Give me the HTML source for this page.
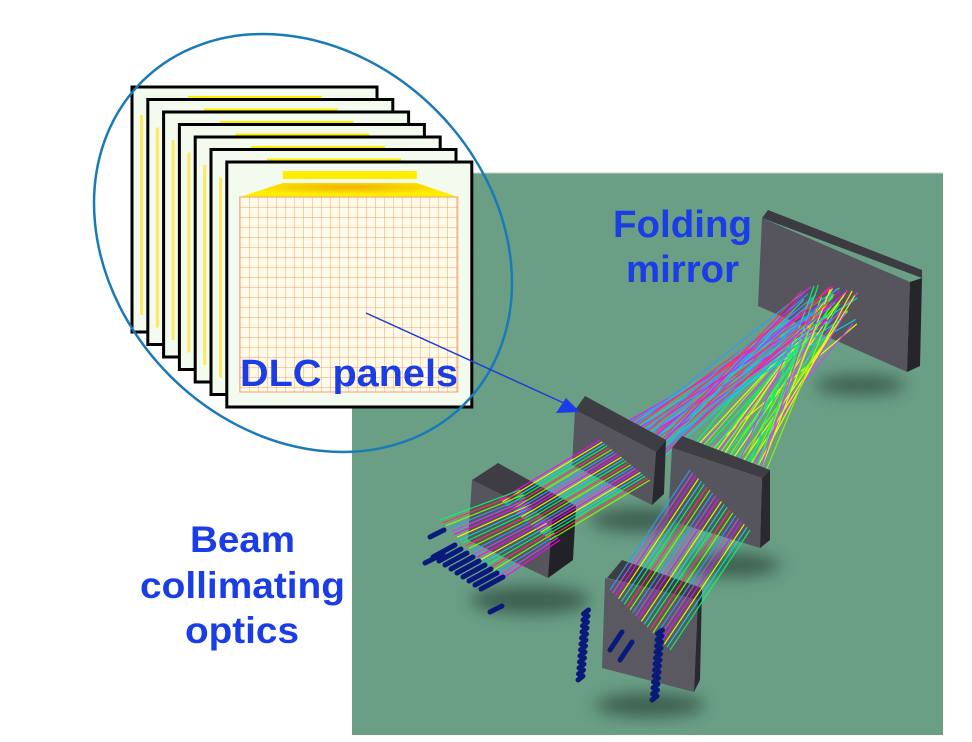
<!DOCTYPE html>
<html><head><meta charset="utf-8"><style>
html,body{margin:0;padding:0;background:#fff;}
svg{display:block;}
text{font-family:"Liberation Sans",Arial,sans-serif;font-weight:bold;fill:#1a3de6;}
</style></head><body>
<svg id="s" width="972" height="742" viewBox="0 0 972 742" xmlns="http://www.w3.org/2000/svg">
<defs>
<pattern id="grid" x="240" y="197" width="9" height="10" patternUnits="userSpaceOnUse">
<rect width="9" height="10" fill="#fffbe8"/>
<path d="M0 0V10M0 0H9" stroke="#f0a070" stroke-width="1"/>
</pattern>
<filter id="bl" x="-50%" y="-50%" width="200%" height="200%"><feGaussianBlur stdDeviation="8"/></filter>
<radialGradient id="glow" cx="0.5" cy="0.3" r="0.5"><stop offset="0" stop-color="#f0b000"/><stop offset="1" stop-color="#ffee00"/></radialGradient>
</defs>
<rect x="352" y="173" width="591" height="562" fill="#6a9f86"/>
<line x1="352" y1="173" x2="943" y2="173" stroke="#ccc" stroke-width="1"/>
<g filter="url(#bl)" fill="#2e4a3c" opacity="0.75">
<ellipse cx="530" cy="600" rx="60" ry="14"/>
<ellipse cx="640" cy="520" rx="50" ry="12"/>
<ellipse cx="730" cy="565" rx="50" ry="12"/>
<ellipse cx="650" cy="705" rx="55" ry="12"/>
<ellipse cx="860" cy="385" rx="45" ry="10"/>
</g>
<polygon points="768,210 922,270 922,278 762,218" fill="#3c3b42"/>
<polygon points="762,218 910,282 907,372 758,306" fill="#56555e"/>
<polygon points="910,282 922,278 920,366 907,372" fill="#26252b"/>
<g id="rays" stroke-width="1.2" opacity="0.9"></g>
<polygon points="575,410 585,396 666,440 656,452" fill="#3e3d44"/>
<polygon points="575,410 656,452 652,505 572,465" fill="#56555e"/>
<polygon points="656,452 666,440 664,494 652,505" fill="#2a292f"/>
<polygon points="672,448 682,436 770,470 762,478" fill="#3e3d44"/>
<polygon points="672,448 762,478 760,548 668,520" fill="#56555e"/>
<polygon points="762,478 770,470 770,540 760,548" fill="#2a292f"/>
<polygon points="472,480 498,463 576,506 552,520" fill="#3e3d44"/>
<polygon points="472,480 552,520 548,578 468,540" fill="#56555e"/>
<polygon points="552,520 576,506 573,560 548,578" fill="#222127"/>
<polygon points="607,578 622,560 702,588 698,600" fill="#3e3d44"/>
<polygon points="605,578 698,600 694,692 602,668" fill="#5a5962"/>
<polygon points="698,600 702,588 700,680 694,692" fill="#2a292f"/>
<g id="rays2" stroke-width="1.2" opacity="0.9"></g>
<g id="rods" stroke="#0a1a7a" stroke-width="5" stroke-linecap="round"></g>
<g id="panels"></g>
<ellipse cx="303" cy="243" rx="228" ry="188" transform="rotate(45 303 243)" fill="none" stroke="#1a7ab8" stroke-width="2.5"/>
<line x1="366" y1="313" x2="566" y2="404" stroke="#1f3fd0" stroke-width="1.5"/>
<polygon points="580,412 556,413 566,398" fill="#1a3de6"/>
<text x="240" y="386" font-size="38" textLength="218" lengthAdjust="spacingAndGlyphs">DLC panels</text>
<text x="613" y="237" font-size="38" textLength="139" lengthAdjust="spacingAndGlyphs">Folding</text>
<text x="626" y="282" font-size="38" textLength="113" lengthAdjust="spacingAndGlyphs">mirror</text>
<text x="190" y="552" font-size="37" textLength="105" lengthAdjust="spacingAndGlyphs">Beam</text>
<text x="140" y="598" font-size="37" textLength="205" lengthAdjust="spacingAndGlyphs">collimating</text>
<text x="185" y="643" font-size="37" textLength="114" lengthAdjust="spacingAndGlyphs">optics</text>
</svg>
<script>
var NS="http://www.w3.org/2000/svg";
function el(p,t,a){var e=document.createElementNS(NS,t);for(var k in a)e.setAttribute(k,a[k]);p.appendChild(e);return e;}
var P=document.getElementById('panels');
for(var i=0;i<7;i++){
 var x=132+i*15.8,y=87+i*12.5;
 el(P,'rect',{x:x,y:y,width:245,height:245,fill:'#f3fbef',stroke:'#000','stroke-width':3});
 el(P,'rect',{x:x+56,y:y+9,width:134,height:8,fill:'#ffee00'});
 if(i<6) el(P,'rect',{x:x+8,y:y+28,width:3,height:200,fill:'#ffe860'});
}
var x=132+6*15.8,y=87+6*12.5;
el(P,'polygon',{points:(x+13)+','+(y+35)+' '+(x+231)+','+(y+35)+' '+(x+190)+','+(y+21)+' '+(x+56)+','+(y+21),fill:'url(#glow)'});
el(P,'rect',{x:x+13,y:y+35,width:218,height:195,fill:'url(#grid)',stroke:'#f0a070'});
var cols=['#ff00ff','#00ff66','#3399ff','#ffff00','#ff3355','#cc44ff','#00dddd','#88ff00'];
var R=document.getElementById('rays'),R2=document.getElementById('rays2');
var n=0;
function ray(g,x1,y1,x2,y2){el(g,'line',{x1:x1,y1:y1,x2:x2,y2:y2,stroke:cols[(n++)%cols.length]});}
var seed=7;function rnd(){seed=(seed*9301+49297)%233280;return seed/233280;}
for(var i=0;i<36;i++){var t=i/35;
 ray(R,630+t*30,420+t*40,800+rnd()*60,285+rnd()*40);
 ray(R,690+t*60,450+t*60,810+rnd()*50,285+rnd()*40);
}
for(var i=0;i<22;i++){var t=i/21;
 ray(R2,500+t*50,500+t*40,600+t*50,440+t*40);
 ray(R2,440+t*60,520+t*60,520+t*40,490+t*50);
 ray(R2,610+t*60,590+t*60,690+t*60,470+t*60);
}
var D=document.getElementById('rods');
function rod(x,y,dx,dy){el(D,'line',{x1:x,y1:y,x2:x+dx,y2:y+dy});}
rod(430,537,14,-7);rod(425,563,18,-9);rod(490,612,12,-6);
for(var i=0;i<9;i++)rod(433+i*6,557+i*4,22,-12);
for(var i=0;i<12;i++)rod(578+i*0.5,680-i*6,5,-4);
for(var i=0;i<12;i++)rod(652+i*0.5,700-i*6,5,-4);
rod(610,650,12,-18);rod(620,660,12,-18);
</script>
</body></html>
